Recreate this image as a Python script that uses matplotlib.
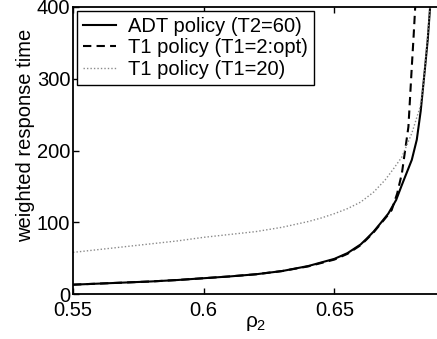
import numpy as np
import matplotlib
matplotlib.use('Agg')
import matplotlib.pyplot as plt

plt.rcParams['font.family'] = ['Liberation Sans', 'DejaVu Sans']
plt.rcParams['mathtext.fontset'] = 'custom'
plt.rcParams['mathtext.rm'] = 'Liberation Sans'
plt.rcParams['mathtext.it'] = 'Liberation Sans'

# ADT policy (T2=60)
rho_adt = [0.55, 0.56, 0.57, 0.58, 0.59, 0.60, 0.61, 0.62, 0.63, 0.64, 0.65,
           0.655, 0.66, 0.6623, 0.665, 0.6675, 0.6706, 0.6736, 0.6758, 0.6796,
           0.6815, 0.6830, 0.6847, 0.6857, 0.6866]
y_adt = [13, 14.5, 16, 17.5, 19.5, 22, 24.5, 27.5, 32, 39, 49,
         57, 69, 77, 87, 98, 112, 131, 152, 187,
         215, 255, 317, 355, 400]

# T1 policy (T1=2:opt)
rho_t1opt = [0.55, 0.56, 0.57, 0.58, 0.59, 0.60, 0.61, 0.62, 0.63, 0.64, 0.65,
             0.655, 0.66, 0.6623, 0.665, 0.6675, 0.6700, 0.6719, 0.6740, 0.6758,
             0.6783, 0.6796, 0.6803, 0.6809]
y_t1opt = [13, 14.5, 16, 17.5, 19.5, 22, 24.5, 27.5, 32, 38.5, 48,
           56, 68, 76, 86, 97, 108, 117, 140, 168,
           233, 317, 360, 400]

# T1 policy (T1=20)
rho_t120 = [0.55, 0.56, 0.57, 0.58, 0.59, 0.60, 0.61, 0.62, 0.63, 0.64, 0.645,
            0.65, 0.655, 0.66, 0.665, 0.6694, 0.6725, 0.6758, 0.6796, 0.6828,
            0.6840, 0.6852, 0.6866]
y_t120 = [58, 62, 66, 70, 74, 79, 83, 87, 93, 101, 106,
          112, 119, 128, 142, 159, 174, 191, 224, 261,
          290, 340, 400]

fig = plt.figure(figsize=(4.37, 3.39), dpi=100)
ax = fig.add_axes([73/437, 45/339, 366/437, 287/339])

ax.plot(rho_adt, y_adt, color='black', lw=1.5, ls='-', label='ADT policy (T2=60)')
ax.plot(rho_t1opt, y_t1opt, color='black', lw=1.5, ls=(0, (4, 2.5)), label='T1 policy (T1=2:opt)')
ax.plot(rho_t120, y_t120, color='#8a8a8a', lw=1.0, ls=(0, (1, 1.5)), label='T1 policy (T1=20)')

ax.set_xlim(0.55, 0.69)
ax.set_ylim(0, 400)
ax.set_xticks([0.55, 0.6, 0.65])
ax.set_xticklabels(['0.55', '0.6', '0.65'])
ax.set_yticks([0, 100, 200, 300, 400])

for s in ['left', 'bottom', 'top']:
    ax.spines[s].set_linewidth(1.3)
ax.spines['right'].set_visible(False)
ax.tick_params(axis='both', direction='in', length=4, width=1.0, labelsize=14.5,
               top=True, right=False)
ax.tick_params(axis='x', pad=5)
ax.tick_params(axis='y', pad=2)

ax.set_xlabel(r'$\rho_2$', fontsize=15)
ax.set_ylabel('weighted response time', fontsize=14.5)
ax.xaxis.set_label_coords(0.5, -0.07)
ax.yaxis.set_label_coords(-0.105, 0.554)

leg = ax.legend(loc='upper left', fontsize=14.5, frameon=True, fancybox=False,
                edgecolor='black', framealpha=1, borderaxespad=0.2,
                handlelength=1.65, handletextpad=0.6, labelspacing=0.12,
                borderpad=0.3)
leg.get_frame().set_linewidth(1.0)

fig.savefig('out.png', dpi=100)
